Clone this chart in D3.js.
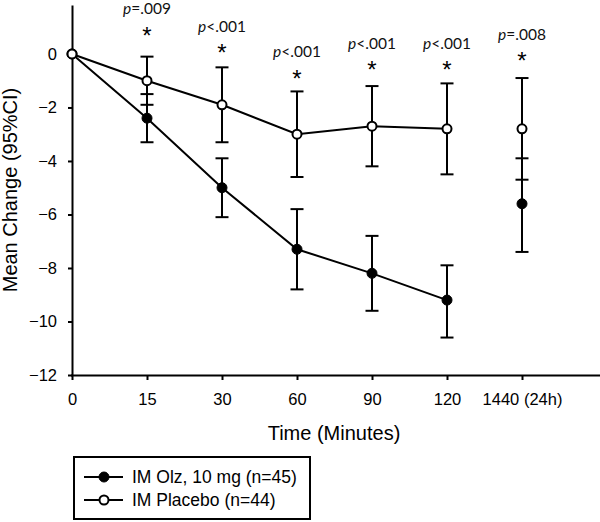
<!DOCTYPE html>
<html>
<head>
<meta charset="utf-8">
<script src="https://cdn.jsdelivr.net/npm/d3@7"></script>
<style>
  html, body { margin: 0; padding: 0; background: #fff; }
  svg { display: block; }
</style>
</head>
<body>
<svg id="chart" width="600" height="522"></svg>
<script>
// ---- data ----
const times = ["0", "15", "30", "60", "90", "120", "1440 (24h)"];
const yTicks = [0, -2, -4, -6, -8, -10, -12];

const olzMean = [0, -2.4, -5.0, -7.3, -8.2, -9.2, -5.6];
const olzLow  = [null, -3.3, -6.1, -8.8, -9.6, -10.6, -7.4];
const olzHigh = [null, -1.5, -3.9, -5.8, -6.8, -7.9, -3.9];

const plaMean = [0, -1.0, -1.9, -3.0, -2.7, -2.8, -2.8];
const plaLow  = [null, -1.9, -3.3, -4.6, -4.2, -4.5, -4.7];
const plaHigh = [null, -0.1, -0.5, -1.4, -1.2, -1.1, -0.9];

// significance annotations
const sigTimes  = ["15", "30", "60", "90", "120", "1440 (24h)"];
const sigPrefix = ["=", "<", "<", "<", "<", "="];
const sigValue  = [".009", ".001", ".001", ".001", ".001", ".008"];
const sigLevel  = [0.72, 0.06, -0.88, -0.58, -0.58, -0.24]; // y (in chart units) of asterisk

const legendLabels = ["IM Olz, 10 mg (n=45)", "IM Placebo (n=44)"];

// ---- drawing ----
const svg = d3.select("#chart");
const font = "'Liberation Sans', Arial, sans-serif";

const x = d3.scalePoint().domain(times).range([72, 522]);
const y = d3.scaleLinear().domain([-12, 1.83]).range([375, 5]);

// axes
const yAxis = svg.append("g")
  .attr("transform", "translate(72,0)")
  .call(d3.axisLeft(y).tickValues(yTicks).tickFormat(d3.format("d")).tickSize(4).tickPadding(11).tickSizeOuter(0));
yAxis.select(".domain").attr("stroke-width", 2);
yAxis.selectAll(".tick line").attr("stroke-width", 2);
yAxis.selectAll("text").attr("font-family", font).attr("font-size", 16.5).attr("fill", "#000");

const xAxis = svg.append("g")
  .attr("transform", "translate(0,375)")
  .call(d3.axisBottom(x).tickSize(5).tickPadding(13).tickSizeOuter(0));
xAxis.select(".domain").attr("d", "M71,0.5H600").attr("stroke-width", 2);
xAxis.selectAll(".tick line").attr("stroke-width", 2);
xAxis.selectAll("text").attr("font-family", font).attr("font-size", 16.5).attr("fill", "#000");

// axis titles
svg.append("text")
  .attr("x", 334).attr("y", 440)
  .attr("text-anchor", "middle")
  .attr("font-family", font).attr("font-size", 20)
  .text("Time (Minutes)");

svg.append("text")
  .attr("transform", "translate(17,190) rotate(-90)")
  .attr("text-anchor", "middle")
  .attr("font-family", font).attr("font-size", 20)
  .text("Mean Change (95%CI)");

// series
const series = [
  { mean: olzMean, lo: olzLow, hi: olzHigh, filled: true },
  { mean: plaMean, lo: plaLow, hi: plaHigh, filled: false }
];

series.forEach(s => {
  const g = svg.append("g");
  // connecting line (0..120)
  g.append("path")
    .datum(s.mean.slice(0, times.length - 1))
    .attr("d", d3.line().x((d, i) => x(times[i])).y(d => y(d)))
    .attr("fill", "none").attr("stroke", "#000").attr("stroke-width", 2);
  // error bars
  const eb = g.selectAll(".eb")
    .data(times.map((t, i) => ({ t, lo: s.lo[i], hi: s.hi[i] })).filter(d => d.lo !== null))
    .enter().append("g");
  eb.append("line")
    .attr("x1", d => x(d.t)).attr("x2", d => x(d.t))
    .attr("y1", d => y(d.lo)).attr("y2", d => y(d.hi))
    .attr("stroke", "#000").attr("stroke-width", 2);
  ["lo", "hi"].forEach(k => {
    eb.append("line")
      .attr("x1", d => x(d.t) - 6.5).attr("x2", d => x(d.t) + 6.5)
      .attr("y1", d => y(d[k])).attr("y2", d => y(d[k]))
      .attr("stroke", "#000").attr("stroke-width", 2);
  });
});

series.forEach(s => {
  svg.append("g").selectAll("circle")
    .data(s.mean)
    .enter().append("circle")
    .attr("cx", (d, i) => x(times[i]))
    .attr("cy", d => y(d))
    .attr("r", s.filled ? 5 : 4.5)
    .attr("fill", s.filled ? "#000" : "#fff")
    .attr("stroke", "#000")
    .attr("stroke-width", s.filled ? 1 : 2);
});

// significance annotations
const sig = svg.append("g");
sigTimes.forEach((t, i) => {
  const cy = y(sigLevel[i]);
  sig.append("text")
    .attr("x", x(t)).attr("y", cy + 9)
    .attr("text-anchor", "middle")
    .attr("font-family", font).attr("font-size", 24)
    .text("*");
  const tx = sig.append("text")
    .attr("x", x(t)).attr("y", cy - 20.5)
    .attr("text-anchor", "middle")
    .attr("font-family", "Lato, 'Open Sans', sans-serif").attr("font-size", 15.5)
    .attr("fill", "#111");
  tx.append("tspan").attr("font-style", "italic").text("p");
  tx.append("tspan").text(sigPrefix[i] + sigValue[i]);
});

// legend
const lg = svg.append("g");
lg.append("rect")
  .attr("x", 74).attr("y", 457).attr("width", 236).attr("height", 62)
  .attr("fill", "#fff").attr("stroke", "#000").attr("stroke-width", 2);
legendLabels.forEach((lab, i) => {
  const ly = 477 + i * 23;
  lg.append("line").attr("x1", 84).attr("x2", 123).attr("y1", ly).attr("y2", ly)
    .attr("stroke", "#000").attr("stroke-width", 2);
  lg.append("circle").attr("cx", 104).attr("cy", ly)
    .attr("r", i === 0 ? 5 : 4.5)
    .attr("fill", i === 0 ? "#000" : "#fff")
    .attr("stroke", "#000").attr("stroke-width", i === 0 ? 1 : 2);
  lg.append("text").attr("x", 132).attr("y", ly).attr("dy", "0.35em")
    .attr("font-family", font).attr("font-size", 17.5)
    .text(lab);
});
</script>
</body>
</html>
